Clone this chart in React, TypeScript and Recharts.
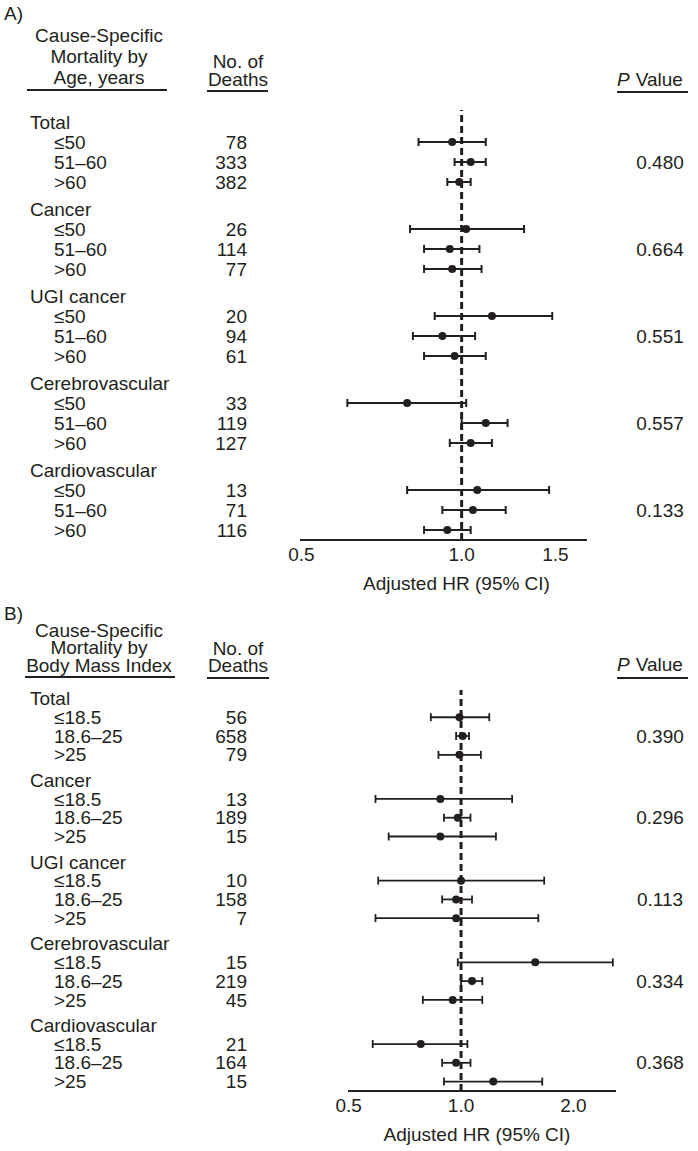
import React from "react";
import {
  ScatterChart,
  Scatter,
  XAxis,
  YAxis,
  ErrorBar,
  ReferenceLine,
} from "recharts";

const GROUPS = [
  "Total",
  "Cancer",
  "UGI cancer",
  "Cerebrovascular",
  "Cardiovascular",
];

// Panel A: age bands
const AGE_BANDS = ["≤50", "51–60", ">60"];
const AGE_DEATHS = [
  [78, 333, 382],
  [26, 114, 77],
  [20, 94, 61],
  [33, 119, 127],
  [13, 71, 116],
];
const AGE_HR = [
  [0.96, 1.04, 0.99],
  [1.02, 0.95, 0.96],
  [1.14, 0.92, 0.97],
  [0.79, 1.11, 1.04],
  [1.07, 1.05, 0.94],
];
const AGE_LO = [
  [0.83, 0.97, 0.94],
  [0.8, 0.85, 0.85],
  [0.89, 0.81, 0.85],
  [0.61, 1.0, 0.95],
  [0.79, 0.92, 0.85],
];
const AGE_HI = [
  [1.11, 1.11, 1.04],
  [1.31, 1.08, 1.09],
  [1.48, 1.06, 1.11],
  [1.02, 1.22, 1.14],
  [1.46, 1.21, 1.04],
];
const AGE_P = ["0.480", "0.664", "0.551", "0.557", "0.133"];
const AGE_TICKS = [0.5, 1, 1.5];

// Panel B: body mass index bands
const BMI_BANDS = ["≤18.5", "18.6–25", ">25"];
const BMI_DEATHS = [
  [56, 658, 79],
  [13, 189, 15],
  [10, 158, 7],
  [15, 219, 45],
  [21, 164, 15],
];
const BMI_HR = [
  [0.99, 1.01, 0.99],
  [0.88, 0.98, 0.88],
  [1.0, 0.97, 0.97],
  [1.58, 1.07, 0.95],
  [0.78, 0.97, 1.22],
];
const BMI_LO = [
  [0.83, 0.97, 0.87],
  [0.59, 0.9, 0.64],
  [0.6, 0.89, 0.59],
  [0.98, 1.0, 0.79],
  [0.58, 0.89, 0.9],
];
const BMI_HI = [
  [1.19, 1.05, 1.13],
  [1.37, 1.06, 1.24],
  [1.67, 1.07, 1.61],
  [2.55, 1.14, 1.14],
  [1.04, 1.06, 1.65],
];
const BMI_P = ["0.390", "0.296", "0.113", "0.334", "0.368"];
const BMI_TICKS = [0.5, 1, 2];

const FONT = '"Liberation Sans", Arial, sans-serif';
const INK = "#231f20";
const FS = 19;
const STEP = 4.35;
const W = 698;

type Row = { pos: number; label: string; sub: boolean; deaths?: number };

interface PanelProps {
  bands: string[];
  deaths: number[][];
  hr: number[][];
  lo: number[][];
  hi: number[][];
  pvals: string[];
  xTicks: number[];
  xDomain: [number, number];
  yDomain: [number, number];
  top: number;
  height: number;
  plotTop: number;
  axisY: number;
  plotLeft: number;
  plotRight: number;
  labelDx: number;
  barStroke: number;
}

function ForestPanel(p: PanelProps) {
  const rows: Row[] = [];
  const points: { hr: number; pos: number; err: number[] }[] = [];
  GROUPS.forEach((g, gi) => {
    rows.push({ pos: gi * STEP, label: g, sub: false });
    p.bands.forEach((b, bi) => {
      const pos = gi * STEP + bi + 1;
      rows.push({ pos, label: b, sub: true, deaths: p.deaths[gi][bi] });
      const v = p.hr[gi][bi];
      points.push({
        hr: v,
        pos,
        err: [v - p.lo[gi][bi], p.hi[gi][bi] - v],
      });
    });
  });
  const byPos = new Map(rows.map((r) => [r.pos.toFixed(2), r]));
  const pTicks = GROUPS.map((_, gi) => gi * STEP + 2);
  const pByPos = new Map(pTicks.map((t, i) => [t.toFixed(2), p.pvals[i]]));

  const textStyle = { fontFamily: FONT, fontSize: FS, fill: INK };

  return (
    <div style={{ position: "absolute", left: 0, top: p.top }}>
      <ScatterChart
        width={W}
        height={p.height}
        margin={{
          top: p.plotTop,
          right: 0,
          left: 0,
          bottom: p.height - p.axisY - 50,
        }}
      >
        <XAxis
          type="number"
          dataKey="hr"
          scale="log"
          domain={p.xDomain}
          allowDataOverflow
          ticks={p.xTicks}
          tickFormatter={(v: number) => v.toFixed(1)}
          tickLine={false}
          axisLine={{ stroke: INK, strokeWidth: 2 }}
          tick={{ ...textStyle }}
          height={50}
          label={{
            value: "Adjusted HR (95% CI)",
            position: "insideBottom",
            offset: 0,
            dx: p.labelDx,
            style: textStyle,
          }}
        />
        <YAxis
          yAxisId="rows"
          type="number"
          dataKey="pos"
          domain={p.yDomain}
          allowDataOverflow
          reversed
          ticks={rows.map((r) => r.pos)}
          interval={0}
          width={p.plotLeft}
          axisLine={false}
          tickLine={false}
          tick={(t: any) => {
            const r = byPos.get(Number(t.payload.value).toFixed(2));
            if (!r) return <g />;
            return (
              <g>
                <text
                  x={r.sub ? 54 : 30}
                  y={t.y}
                  dy="0.35em"
                  style={textStyle}
                >
                  {r.label}
                </text>
                {r.deaths != null && (
                  <text
                    x={247}
                    y={t.y}
                    dy="0.35em"
                    textAnchor="end"
                    style={textStyle}
                  >
                    {r.deaths}
                  </text>
                )}
              </g>
            );
          }}
        />
        <YAxis
          yAxisId="p"
          orientation="right"
          type="number"
          domain={p.yDomain}
          allowDataOverflow
          reversed
          ticks={pTicks}
          interval={0}
          width={W - p.plotRight}
          axisLine={false}
          tickLine={false}
          tick={(t: any) => (
            <text
              x={660}
              y={t.y}
              dy="0.35em"
              textAnchor="middle"
              style={textStyle}
            >
              {pByPos.get(Number(t.payload.value).toFixed(2))}
            </text>
          )}
        />
        <ReferenceLine
          x={1}
          yAxisId="rows"
          stroke={INK}
          strokeWidth={3}
          strokeDasharray="7 4"
        />
        <Scatter
          yAxisId="rows"
          data={points}
          isAnimationActive={false}
          shape={(s: any) => <circle cx={s.cx} cy={s.cy} r={4} fill={INK} />}
        >
          <ErrorBar
            dataKey="err"
            direction="x"
            width={4}
            stroke={INK}
            strokeWidth={p.barStroke}
            isAnimationActive={false}
          />
        </Scatter>
      </ScatterChart>
    </div>
  );
}

function Headers() {
  const t = { fontFamily: FONT, fontSize: FS, fill: INK };
  const head = (y0: number, lines: string[], ys: number[], uY: number, uX: [number, number], deathYs: number[], dU: [number, number], pY: number, pU: number) => (
    <g>
      {lines.map((l, i) => (
        <text key={l} x={99} y={ys[i]} textAnchor="middle" style={t}>
          {l}
        </text>
      ))}
      <line x1={uX[0]} x2={uX[1]} y1={uY} y2={uY} stroke={INK} strokeWidth={2} />
      <text x={238} y={deathYs[0]} textAnchor="middle" style={t}>
        No. of
      </text>
      <text x={238} y={deathYs[1]} textAnchor="middle" style={t}>
        Deaths
      </text>
      <line x1={dU[0]} x2={dU[1]} y1={uY + 1} y2={uY + 1} stroke={INK} strokeWidth={2} />
      <text x={617} y={pY} style={t}>
        <tspan fontStyle="italic">P</tspan>
        <tspan dx={6}>Value</tspan>
      </text>
      <line x1={617} x2={688} y1={pU} y2={pU} stroke={INK} strokeWidth={2} />
      <text x={4} y={y0} style={t}>
        {y0 < 300 ? "A)" : "B)"}
      </text>
    </g>
  );
  return (
    <svg
      width={W}
      height={1151}
      style={{ position: "absolute", left: 0, top: 0, pointerEvents: "none" }}
    >
      {head(
        20,
        ["Cause-Specific", "Mortality by", "Age, years"],
        [42, 63, 84],
        90,
        [27, 167],
        [68, 86],
        [207, 268],
        86,
        92
      )}
      {head(
        620,
        ["Cause-Specific", "Mortality by", "Body Mass Index"],
        [637, 654, 672],
        677,
        [25, 175],
        [655, 672],
        [207, 269],
        671,
        678
      )}
    </svg>
  );
}

export default function App() {
  return (
    <div
      style={{
        position: "absolute",
        left: 0,
        top: 0,
        width: W,
        height: 1151,
        background: "#fff",
        overflow: "hidden",
      }}
    >
      <ForestPanel
        bands={AGE_BANDS}
        deaths={AGE_DEATHS}
        hr={AGE_HR}
        lo={AGE_LO}
        hi={AGE_HI}
        pvals={AGE_P}
        xTicks={AGE_TICKS}
        xDomain={[0.497, 1.72]}
        yDomain={[-0.6, 20.9]}
        top={0}
        height={598}
        plotTop={110}
        axisY={540}
        plotLeft={300}
        plotRight={587}
        labelDx={13}
        barStroke={2}
      />
      <ForestPanel
        bands={BMI_BANDS}
        deaths={BMI_DEATHS}
        hr={BMI_HR}
        lo={BMI_LO}
        hi={BMI_HI}
        pvals={BMI_P}
        xTicks={BMI_TICKS}
        xDomain={[0.498, 2.6]}
        yDomain={[-0.45, 20.9]}
        top={590}
        height={561}
        plotTop={100}
        axisY={501}
        plotLeft={348}
        plotRight={616}
        labelDx={-5}
        barStroke={1.8}
      />
      <Headers />
    </div>
  );
}
